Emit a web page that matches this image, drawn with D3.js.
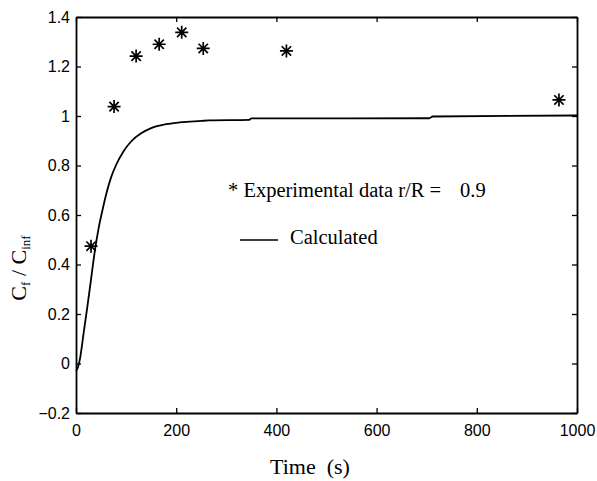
<!DOCTYPE html>
<html><head><meta charset="utf-8">
<script src="https://cdn.jsdelivr.net/npm/d3@7"></script>
<style>body{margin:0;background:#fff}svg{display:block}</style>
</head><body>
<script>
const xTicks = [0, 200, 400, 600, 800, 1000];
const yTicks = [-0.2, 0, 0.2, 0.4, 0.6, 0.8, 1, 1.2, 1.4];
const expTime = [30, 76, 120, 166, 211, 254, 420, 964];
const expValue = [0.474, 1.038, 1.242, 1.29, 1.338, 1.273, 1.263, 1.065];
const calcTime = [0, 3, 8, 15, 22, 30, 38, 45, 52, 60, 70, 80, 95, 110, 130, 150, 180, 210, 250, 265, 345, 350, 705, 712, 1000];
const calcValue = [-0.03, -0.02, 0.02, 0.12, 0.22, 0.34, 0.46, 0.545, 0.612, 0.682, 0.752, 0.802, 0.858, 0.897, 0.93, 0.951, 0.967, 0.975, 0.98, 0.982, 0.984, 0.99, 0.991, 0.998, 1.002];

const W = 597, H = 481;
const m = {l: 76, r: 577, t: 17, b: 413};
const svg = d3.select("body").append("svg").attr("width", W).attr("height", H);
const x = d3.scaleLinear().domain([0, 1000]).range([m.l, m.r]);
const y = d3.scaleLinear().domain([-0.2, 1.4]).range([m.b, m.t]);

const fmt = d => (Math.abs(d) < 1e-9 ? "0" : d3.format("~g")(+d.toFixed(2)));
const tickFont = "'Liberation Sans', Arial, sans-serif";

const gB = svg.append("g").attr("transform", `translate(0,${m.b})`)
  .call(d3.axisBottom(x).tickValues(xTicks).tickSizeInner(-5).tickSizeOuter(0).tickPadding(12).tickFormat(fmt));
const gT = svg.append("g").attr("transform", `translate(0,${m.t})`)
  .call(d3.axisTop(x).tickValues(xTicks).tickSizeInner(-5).tickSizeOuter(0).tickFormat(""));
const gL = svg.append("g").attr("transform", `translate(${m.l},0)`)
  .call(d3.axisLeft(y).tickValues(yTicks).tickSizeInner(-5).tickSizeOuter(0).tickPadding(6).tickFormat(fmt));
const gR = svg.append("g").attr("transform", `translate(${m.r},0)`)
  .call(d3.axisRight(y).tickValues(yTicks).tickSizeInner(-5).tickSizeOuter(0).tickFormat(""));
[gB, gT, gL, gR].forEach(g => {
  g.selectAll("path.domain").attr("stroke", "#000").attr("stroke-width", 1.8);
  g.selectAll(".tick line").attr("stroke", "#000").attr("stroke-width", 1.3);
  g.selectAll("text").attr("fill", "#000").style("font-family", tickFont).style("font-size", "16px");
});

// calculated curve
const pts = calcTime.map((t, i) => [t, calcValue[i]]);
svg.append("path").datum(pts)
  .attr("fill", "none").attr("stroke", "#000").attr("stroke-width", 1.8)
  .attr("d", d3.line().x(d => x(d[0])).y(d => y(d[1])).curve(d3.curveMonotoneX));

// experimental stars
function star(g, cx, cy, r) {
  const a = r * 0.72;
  g.append("path").attr("d",
    `M${cx - r},${cy}L${cx + r},${cy}M${cx},${cy - r}L${cx},${cy + r}` +
    `M${cx - a},${cy - a}L${cx + a},${cy + a}M${cx - a},${cy + a}L${cx + a},${cy - a}`)
    .attr("stroke", "#000").attr("stroke-width", 1.7).attr("fill", "none");
}
const gS = svg.append("g");
expTime.forEach((t, i) => star(gS, x(t), y(expValue[i]), 6.5));

// legend
const serif = "'Liberation Serif', 'Times New Roman', serif";
svg.append("text").attr("x", 228).attr("y", 197).style("font-family", serif).style("font-size", "20.5px")
  .attr("fill", "#000").text("* Experimental data r/R =");
svg.append("text").attr("x", 460).attr("y", 197).style("font-family", serif).style("font-size", "20.5px")
  .attr("fill", "#000").text("0.9");
svg.append("line").attr("x1", 240).attr("x2", 278).attr("y1", 240).attr("y2", 240)
  .attr("stroke", "#000").attr("stroke-width", 1.7);
svg.append("text").attr("x", 290).attr("y", 244).style("font-family", serif).style("font-size", "20.5px")
  .attr("fill", "#000").text("Calculated");

// axis labels
svg.append("text").attr("x", 310).attr("y", 474).attr("text-anchor", "middle")
  .style("font-family", serif).style("font-size", "22px").attr("fill", "#000")
  .attr("xml:space", "preserve").text("Time  (s)");
const yl = svg.append("text").attr("transform", "translate(26,268) rotate(-90)").attr("text-anchor", "middle")
  .style("font-family", serif).style("font-size", "22px").attr("fill", "#000");
yl.append("tspan").text("C");
yl.append("tspan").attr("dy", 4).style("font-size", "13px").text("f");
yl.append("tspan").attr("dy", -4).text(" / C");
yl.append("tspan").attr("dy", 4).style("font-size", "13px").text("inf");
</script>
</body></html>
